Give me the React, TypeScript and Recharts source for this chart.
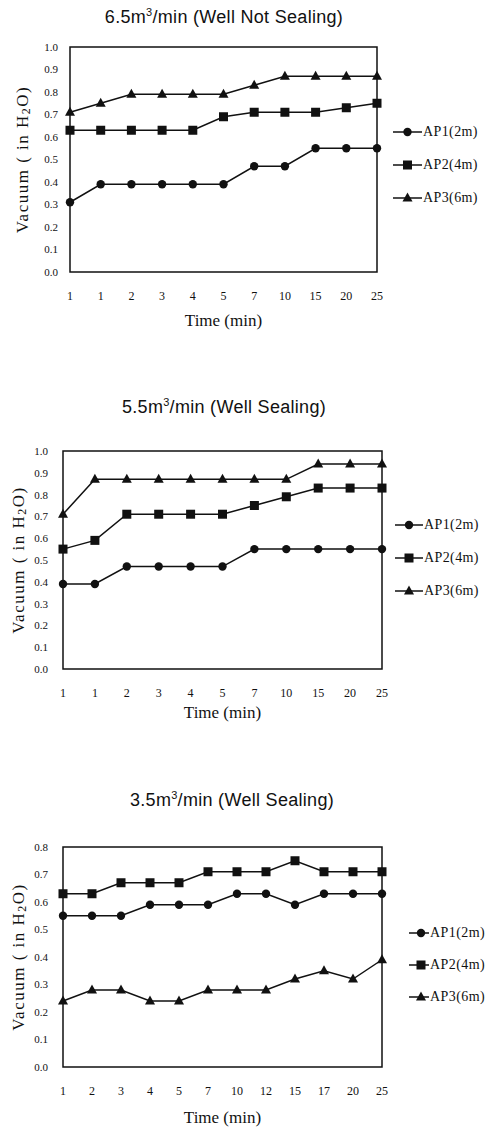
import React from "react";
import { LineChart, Line, XAxis, YAxis, Legend, ReferenceArea } from "recharts";

const SERIF = "'Liberation Serif', 'DejaVu Serif', serif";
const SANS = "'Liberation Sans', Arial, sans-serif";
const INK = "#111";

// time axis (min)
const timesHigh = ["1", "1", "2", "3", "4", "5", "7", "10", "15", "20", "25"];
const timesLow = ["1", "2", "3", "4", "5", "7", "10", "12", "15", "17", "20", "25"];

// 6.5 m3/min, well not sealing
const ap1Q65 = [0.31, 0.39, 0.39, 0.39, 0.39, 0.39, 0.47, 0.47, 0.55, 0.55, 0.55];
const ap2Q65 = [0.63, 0.63, 0.63, 0.63, 0.63, 0.69, 0.71, 0.71, 0.71, 0.73, 0.75];
const ap3Q65 = [0.71, 0.75, 0.79, 0.79, 0.79, 0.79, 0.83, 0.87, 0.87, 0.87, 0.87];

// 5.5 m3/min, well sealing
const ap1Q55 = [0.39, 0.39, 0.47, 0.47, 0.47, 0.47, 0.55, 0.55, 0.55, 0.55, 0.55];
const ap2Q55 = [0.55, 0.59, 0.71, 0.71, 0.71, 0.71, 0.75, 0.79, 0.83, 0.83, 0.83];
const ap3Q55 = [0.71, 0.87, 0.87, 0.87, 0.87, 0.87, 0.87, 0.87, 0.94, 0.94, 0.94];

// 3.5 m3/min, well sealing
const ap1Q35 = [0.55, 0.55, 0.55, 0.59, 0.59, 0.59, 0.63, 0.63, 0.59, 0.63, 0.63, 0.63];
const ap2Q35 = [0.63, 0.63, 0.67, 0.67, 0.67, 0.71, 0.71, 0.71, 0.75, 0.71, 0.71, 0.71];
const ap3Q35 = [0.24, 0.28, 0.28, 0.24, 0.24, 0.28, 0.28, 0.28, 0.32, 0.35, 0.32, 0.39];

const ticksTo10 = [0, 0.1, 0.2, 0.3, 0.4, 0.5, 0.6, 0.7, 0.8, 0.9, 1.0];
const ticksTo08 = [0, 0.1, 0.2, 0.3, 0.4, 0.5, 0.6, 0.7, 0.8];

const seriesKeys = ["ap1", "ap2", "ap3"];
const seriesNames = ["AP1(2m)", "AP2(4m)", "AP3(6m)"];

const CircleDot = (p: any) =>
  p.cx == null ? null : <circle key={`c${p.index}`} cx={p.cx} cy={p.cy} r={4.2} fill={INK} />;
const SquareDot = (p: any) =>
  p.cx == null ? null : (
    <rect key={`s${p.index}`} x={p.cx - 4.5} y={p.cy - 4.5} width={9} height={9} fill={INK} />
  );
const TriDot = (p: any) =>
  p.cx == null ? null : (
    <path
      key={`t${p.index}`}
      d={`M${p.cx},${p.cy - 5.5} L${p.cx + 5},${p.cy + 3.5} L${p.cx - 5},${p.cy + 3.5} Z`}
      fill={INK}
    />
  );
const dots = [CircleDot, SquareDot, TriDot];

const LegendList = ({ pad, rowH, lineW }: { pad: number; rowH: number; lineW: number }) => (
  <div style={{ paddingLeft: pad }}>
    {seriesNames.map((name, i) => {
      const Dot = dots[i];
      return (
        <div key={name} style={{ display: "flex", alignItems: "center", height: rowH }}>
          <svg width={lineW} height={12} style={{ display: "block" }}>
            <line x1={0} y1={6} x2={lineW} y2={6} stroke={INK} strokeWidth={1.5} />
            <Dot cx={lineW / 2} cy={6} index={0} />
          </svg>
          <span style={{ fontFamily: SERIF, fontSize: 14, letterSpacing: 0.4, color: INK, marginLeft: 1 }}>
            {name}
          </span>
        </div>
      );
    })}
  </div>
);

type PanelProps = {
  top: number;
  height: number;
  rate: string;
  note: string;
  titleY: number;
  titleCx: number;
  times: string[];
  ap1: number[];
  ap2: number[];
  ap3: number[];
  yMax: number;
  yTicks: number[];
  plotTop: number;
  xAxisH: number;
  yAxisW: number;
  yTickGap: number;
  yLabelX: number;
  timeDy: number;
  legendW: number;
  legendTop: number;
  legendPad: number;
  legendRowH: number;
  legendLineW: number;
};

function Panel(p: PanelProps) {
  const data = p.times.map((t, i) => ({ time: t, ap1: p.ap1[i], ap2: p.ap2[i], ap3: p.ap3[i] }));
  return (
    <div style={{ position: "absolute", left: 0, top: p.top, width: 485, height: p.height }}>
      <LineChart
        width={485}
        height={p.height}
        data={data}
        margin={{ top: p.plotTop, right: 0, bottom: 0, left: 0 }}
      >
        <ReferenceArea y1={0} y2={p.yMax} fill="none" stroke={INK} strokeWidth={1.5} ifOverflow="visible" />
        <XAxis
          dataKey="time"
          height={p.xAxisH}
          axisLine={false}
          tickLine={false}
          tickSize={0}
          tickMargin={19}
          interval={0}
          tick={{ fill: INK, fontSize: 12, fontFamily: SERIF }}
          label={(lp: any) => {
            const vb = lp.viewBox;
            return (
              <text
                x={vb.x + vb.width / 2}
                y={vb.y + p.timeDy}
                textAnchor="middle"
                dominantBaseline="central"
                fontFamily={SERIF}
                fontSize={17}
                fill={INK}
              >
                Time (min)
              </text>
            );
          }}
        />
        <YAxis
          type="number"
          domain={[0, p.yMax]}
          ticks={p.yTicks}
          width={p.yAxisW}
          axisLine={false}
          tickLine={false}
          tickSize={0}
          tickMargin={p.yTickGap}
          interval={0}
          tickFormatter={(v: number) => v.toFixed(1)}
          tick={{ fill: INK, fontSize: 11, fontFamily: SERIF }}
          label={(lp: any) => {
            const vb = lp.viewBox;
            const cy = vb.y + vb.height / 2;
            return (
              <text
                transform={`translate(${p.yLabelX},${cy}) rotate(-90)`}
                textAnchor="middle"
                dominantBaseline="central"
                fontFamily={SERIF}
                fontSize={17}
                letterSpacing={1.5}
                fill={INK}
              >
                Vacuum ( in H
                <tspan fontSize={12} dy={4}>
                  2
                </tspan>
                <tspan dy={-4}>O)</tspan>
              </text>
            );
          }}
        />
        <Legend
          layout="vertical"
          align="right"
          verticalAlign="top"
          width={p.legendW}
          wrapperStyle={{ top: p.legendTop, right: 0, width: p.legendW }}
          content={() => <LegendList pad={p.legendPad} rowH={p.legendRowH} lineW={p.legendLineW} />}
        />
        {seriesKeys.map((k, i) => (
          <Line
            key={k}
            dataKey={k}
            name={seriesNames[i]}
            type="linear"
            stroke={INK}
            strokeWidth={1.5}
            dot={dots[i]}
            activeDot={false}
            isAnimationActive={false}
          />
        ))}
      </LineChart>
      <div
        style={{
          position: "absolute",
          left: 0,
          top: p.titleY - 12,
          width: p.titleCx * 2,
          textAlign: "center",
          fontFamily: SANS,
          fontSize: 18,
          letterSpacing: 0.3,
          lineHeight: "24px",
          color: INK,
        }}
      >
        {p.rate}m<sup style={{ fontSize: 11, lineHeight: 0 }}>3</sup>/min ({p.note})
      </div>
    </div>
  );
}

export default function App() {
  return (
    <div style={{ position: "absolute", left: 0, top: 0, width: 485, height: 1127, background: "#fff" }}>
      <Panel
        top={0}
        height={340}
        rate="6.5"
        note="Well Not Sealing"
        titleY={17}
        titleCx={224}
        times={timesHigh}
        ap1={ap1Q65}
        ap2={ap2Q65}
        ap3={ap3Q65}
        yMax={1.0}
        yTicks={ticksTo10}
        plotTop={47}
        xAxisH={68}
        yAxisW={70}
        yTickGap={12}
        yLabelX={22}
        timeDy={48}
        legendW={108}
        legendTop={115}
        legendPad={16}
        legendRowH={33}
        legendLineW={29}
      />
      <Panel
        top={370}
        height={360}
        rate="5.5"
        note="Well Sealing"
        titleY={37}
        titleCx={224}
        times={timesHigh}
        ap1={ap1Q55}
        ap2={ap2Q55}
        ap3={ap3Q55}
        yMax={1.0}
        yTicks={ticksTo10}
        plotTop={81}
        xAxisH={61}
        yAxisW={63}
        yTickGap={15}
        yLabelX={18}
        timeDy={43}
        legendW={103}
        legendTop={138}
        legendPad={13}
        legendRowH={33}
        legendLineW={28}
      />
      <Panel
        top={760}
        height={367}
        rate="3.5"
        note="Well Sealing"
        titleY={40}
        titleCx={232}
        times={timesLow}
        ap1={ap1Q35}
        ap2={ap2Q35}
        ap3={ap3Q35}
        yMax={0.8}
        yTicks={ticksTo08}
        plotTop={87}
        xAxisH={60}
        yAxisW={63}
        yTickGap={15}
        yLabelX={18}
        timeDy={50}
        legendW={103}
        legendTop={157}
        legendPad={27}
        legendRowH={32}
        legendLineW={24}
      />
    </div>
  );
}
